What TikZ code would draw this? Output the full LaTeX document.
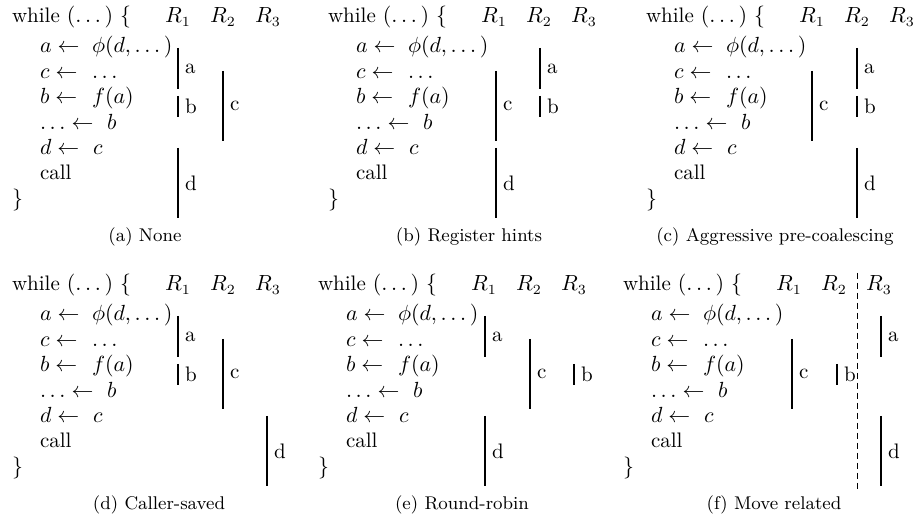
\documentclass[tikz,border=0pt]{standalone}
\usetikzlibrary{positioning}

\begin{document}
\begin{tikzpicture}[x=0.5pt, y=-0.5pt,
  every node/.style={inner sep=0pt, outer sep=0pt, font=\fontsize{10.5}{13}\selectfont},
  code/.style={anchor=base west},
  reg/.style={anchor=base},
  live/.style={line width=1pt},
  lbl/.style={anchor=west, xshift=3.5pt},
  subcap/.style={anchor=base, font=\fontsize{9.2}{11}\selectfont}]
  \useasboundingbox (0,0) rectangle (915,522);
  % the loop and the register columns, same in every panel
  \foreach \p/\x/\y in {a/12/23, b/328/23, c/646/23, d/12/291, e/318/291, f/623/291} {
    \begin{scope}[shift={(\x,\y)}]
      \node[code] (\p-while) at (0,0) {while $(\ldots\,)$ $\{$};
      \node[reg] (\p-r1) at (166,0) {$R_1$};
      \node[reg] (\p-r2) at (211,0) {$R_2$};
      \node[reg] (\p-r3) at (256,0) {$R_3$};
      \node[code] (\p-a) at (28,30) {$a \leftarrow$};
      \node[code] (\p-phi) at (80,30) {$\phi(d,\ldots\,)$};
      \node[code] (\p-c) at (28,55.4) {$c \leftarrow$};
      \node[code] (\p-dots) at (80,55.4) {$\ldots$};
      \node[code] (\p-b) at (28,80.8) {$b \leftarrow$};
      \node[code] (\p-fa) at (80,80.8) {$f(a)$};
      \node[code] (\p-use) at (28,106.2) {$\ldots \leftarrow$};
      \node[code] (\p-ub) at (95,106.2) {$b$};
      \node[code] (\p-d) at (28,131.6) {$d \leftarrow$};
      \node[code] (\p-dc) at (81,131.6) {$c$};
      \node[code] (\p-call) at (28,157) {call};
      \node[code] (\p-end) at (0,182.4) {$\}$};
    \end{scope}
  }
  % (a) None
  \begin{scope}[shift={(12,23)}]
    \draw[live] (166,25) -- node[lbl] (a-la) {a} (166,66);
    \draw[live] (166,73) -- node[lbl] (a-lb) {b} (166,94);
    \draw[live] (211,48) -- node[lbl] (a-lc) {c} (211,118);
    \draw[live] (166,125) -- node[lbl] (a-ld) {d} (166,195);
  \end{scope}
  % (b) Register hints
  \begin{scope}[shift={(328,23)}]
    \draw[live] (212,25) -- node[lbl] (b-la) {a} (212,66);
    \draw[live] (212,73) -- node[lbl] (b-lb) {b} (212,94);
    \draw[live] (168,48) -- node[lbl] (b-lc) {c} (168,118);
    \draw[live] (168,125) -- node[lbl] (b-ld) {d} (168,195);
  \end{scope}
  % (c) Aggressive pre-coalescing
  \begin{scope}[shift={(646,23)}]
    \draw[live] (211,25) -- node[lbl] (c-la) {a} (211,66);
    \draw[live] (211,73) -- node[lbl] (c-lb) {b} (211,94);
    \draw[live] (166,48) -- node[lbl] (c-lc) {c} (166,118);
    \draw[live] (211,125) -- node[lbl] (c-ld) {d} (211,195);
  \end{scope}
  % (d) Caller-saved
  \begin{scope}[shift={(12,291)}]
    \draw[live] (166,25) -- node[lbl] (d-la) {a} (166,66);
    \draw[live] (166,73) -- node[lbl] (d-lb) {b} (166,94);
    \draw[live] (211,48) -- node[lbl] (d-lc) {c} (211,118);
    \draw[live] (255,125) -- node[lbl] (d-ld) {d} (255,195);
  \end{scope}
  % (e) Round-robin
  \begin{scope}[shift={(318,291)}]
    \draw[live] (167,25) -- node[lbl] (e-la) {a} (167,66);
    \draw[live] (256,73) -- node[lbl] (e-lb) {b} (256,94);
    \draw[live] (212,48) -- node[lbl] (e-lc) {c} (212,118);
    \draw[live] (167,125) -- node[lbl] (e-ld) {d} (167,195);
  \end{scope}
  % (f) Move related
  \begin{scope}[shift={(623,291)}]
    \draw[dash pattern=on 3pt off 2pt] (234,-18) -- (234,200);
    \draw[live] (258,25) -- node[lbl] (f-la) {a} (258,66);
    \draw[live] (214,73) -- node[lbl] (f-lb) {b} (214,94);
    \draw[live] (169,48) -- node[lbl] (f-lc) {c} (169,118);
    \draw[live] (258,125) -- node[lbl] (f-ld) {d} (258,195);
  \end{scope}
  \node[subcap] (cap-a) at (145,242) {(a) None};
  \node[subcap] (cap-b) at (469,242) {(b) Register hints};
  \node[subcap] (cap-c) at (775,242) {(c) Aggressive pre-coalescing};
  \node[subcap] (cap-d) at (159,510) {(d) Caller-saved};
  \node[subcap] (cap-e) at (462,510) {(e) Round-robin};
  \node[subcap] (cap-f) at (774,510) {(f) Move related};
\end{tikzpicture}
\end{document}
